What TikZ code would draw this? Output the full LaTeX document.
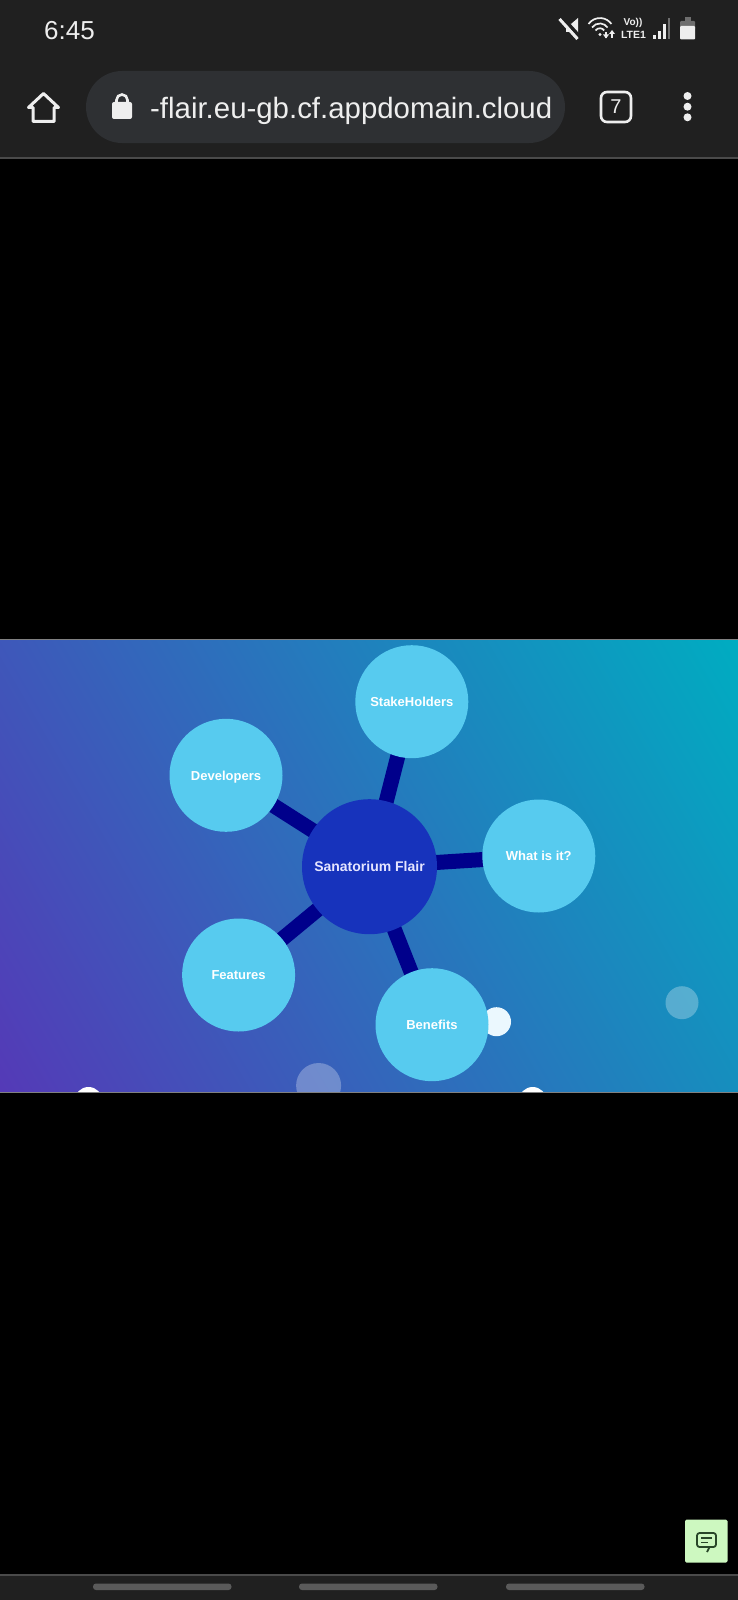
\documentclass[tikz,border=0pt]{standalone}
\usepackage{fontspec}
\setmainfont{Liberation Sans}
\usetikzlibrary{backgrounds,calc}
\definecolor{barbg}{HTML}{202020}
\definecolor{pillbg}{HTML}{2E3033}
\definecolor{sepline}{HTML}{4A4A4A}
\definecolor{lightnode}{HTML}{57CBEF}
\definecolor{hubnode}{HTML}{1733BC}
\definecolor{linkcol}{HTML}{00008B}
\definecolor{gradA}{HTML}{543AB7}
\definecolor{gradB}{HTML}{00ACC1}
\definecolor{btngreen}{HTML}{CDF8C0}
\definecolor{btnink}{HTML}{284628}
\definecolor{inkwhite}{HTML}{EEEEEE}
\tikzset{
  x=1pt,y=-1pt,
  leaf/.style={circle,fill=lightnode,minimum size=113pt,inner sep=0pt,text=white,text height=9.5pt,text depth=0pt,font=\bfseries\fontsize{13}{15}\selectfont},
  hub/.style={circle,fill=hubnode,minimum size=135pt,inner sep=0pt,text=white!90!blue,text height=10pt,text depth=0pt,font=\fontsize{14}{16}\selectfont\bfseries},
  link/.style={draw=linkcol,line width=15pt},
  bubble/.style={circle,inner sep=0pt},
  glyph/.style={inner sep=0pt,text=inkwhite},
  navpill/.style={fill=white!26!barbg,rounded corners=3pt},
}
\begin{document}
\begin{tikzpicture}
\useasboundingbox (0,0) rectangle (738,1600);
\begin{pgfonlayer}{background}
\fill[black] (0,0) rectangle (738,1600);
\begin{scope}
\clip (0,639) rectangle (738,1092);
\shade[bottom color=gradA,top color=gradB,shading angle=-60] (-63.5,433) rectangle (801.5,1298);
\end{scope}
\end{pgfonlayer}
% top bar
\fill[barbg] (0,0) rectangle (738,157);
\fill[sepline] (0,157) rectangle (738,159);
\node[glyph,anchor=center] (clock) at (69.5,31) {\fontsize{26}{28}\selectfont 6:45};
\fill[pillbg,rounded corners=36pt] (86,71) rectangle (565,143);
\node[glyph,anchor=west] (url) at (150,110.5) {\fontsize{29.4}{32}\selectfont -flair.eu-gb.cf.appdomain.cloud};
% home icon
\draw[inkwhite,line width=3pt,line join=round] (28.5,107.5) -- (43.5,93.5) -- (58.5,107.5) -- (54,107.5) -- (54,121.5) -- (33,121.5) -- (33,107.5) -- cycle;
% lock
\fill[inkwhite,rounded corners=2pt] (112,102) rectangle (132,119);
\draw[inkwhite,line width=2.6pt] (116.5,103) -- (116.5,100) arc[start angle=-180,end angle=0,radius=5.5] -- (127.5,103);
% tab counter
\draw[inkwhite,line width=2.6pt,rounded corners=6pt] (601,92) rectangle (631,122);
\node[glyph] (tabs) at (616,107) {\fontsize{20}{22}\selectfont 7};
% menu dots
\foreach \yy in {96,106.7,117.3} \fill[inkwhite] (687.5,\yy) circle[radius=4];
% status icons
\fill[inkwhite] (566,24) -- (571,24) -- (578,18) -- (578,38) -- (571,32) -- (566,32) -- cycle;
\draw[barbg,line width=3.5pt] (561,16) -- (581,38);
\draw[inkwhite,line width=3pt] (559.5,19) -- (577.5,39);
\draw[inkwhite,line width=1.7pt] (588.5,24) arc[start angle=-145,end angle=-35,radius=14];
\draw[inkwhite,line width=1.7pt] (592,27.5) arc[start angle=-145,end angle=-35,radius=9.5];
\draw[inkwhite,line width=1.7pt] (595.5,30.5) arc[start angle=-145,end angle=-35,radius=5.3];
\fill[inkwhite] (600,34.5) circle[radius=1.7];
\draw[inkwhite,line width=1.4pt] (606,38) -- (606,32);
\fill[inkwhite] (603,34.5) -- (606,38.5) -- (609,34.5) -- cycle;
\draw[inkwhite,line width=1.4pt] (612,38) -- (612,32);
\fill[inkwhite] (609,34) -- (612,30) -- (615,34) -- cycle;
\node[glyph] (volte) at (633,23) {\bfseries\fontsize{10}{11}\selectfont Vo))};
\node[glyph] (lte) at (633.5,35) {\bfseries\fontsize{10.5}{11}\selectfont LTE1};
\fill[inkwhite] (653,35) rectangle (655.5,39);
\fill[inkwhite] (658,31) rectangle (660.5,39);
\fill[inkwhite] (663,24) rectangle (665.5,39);
\fill[white!35!barbg] (668,18.5) rectangle (670,39);
\fill[white!35!barbg,rounded corners=1pt] (680,21) rectangle (695,30);
\fill[white!35!barbg] (685,17.5) rectangle (691,22);
\fill[inkwhite,rounded corners=1pt] (680,26) rectangle (695,39.5);
% page
\begin{scope}
\clip (0,639) rectangle (738,1092);
\node[bubble,fill=white,fill opacity=.28,minimum size=33pt] (b1) at (682,1002.7) {};
\node[bubble,fill=white,fill opacity=.28,minimum size=45pt] (b2) at (318.6,1085.5) {};
\node[bubble,fill=white!92!cyan,minimum size=29pt] (b3) at (496.5,1021.7) {};
\node[bubble,fill=white,minimum size=28pt] (b4) at (88.5,1101) {};
\node[bubble,fill=white,minimum size=28pt] (b5) at (532.7,1101) {};
\end{scope}
\node[leaf] (stake) at (411.8,701.7) {StakeHolders};
\node[leaf] (dev) at (226,775.3) {Developers};
\node[leaf] (what) at (538.8,856) {What is it?};
\node[leaf] (feat) at (238.6,975) {Features};
\node[leaf] (ben) at (432,1024.7) {Benefits};
\node[hub] (hub) at (369.5,866.7) {Sanatorium Flair};
\begin{pgfonlayer}{background}
\foreach \tgt in {stake,dev,what,feat,ben} \draw[link] (hub.center) -- (\tgt.center);
\end{pgfonlayer}
\fill[white!50!black] (0,639) rectangle (738,640);
\fill[white!50!black] (0,1092) rectangle (738,1093);
% feedback button
\fill[btngreen,rounded corners=1.5pt] (685,1519.5) rectangle (727.5,1562.5);
\draw[btnink,line width=1.8pt,rounded corners=2.5pt,line join=round] (707,1547) -- (716,1547) -- (716,1533) -- (697,1533) -- (697,1547) -- (709.5,1547);
\draw[btnink,line width=1.8pt] (709.5,1547) -- (707,1552);
\draw[btnink,line width=1.6pt] (701,1538) -- (712,1538);
\draw[btnink,line width=1.6pt] (701,1542.5) -- (708,1542.5);
% navigation bar
\fill[barbg] (0,1574) rectangle (738,1600);
\fill[sepline] (0,1573.5) rectangle (738,1575.5);
\fill[navpill] (93,1583.5) rectangle (231.5,1590);
\fill[navpill] (299,1583.5) rectangle (437.5,1590);
\fill[navpill] (506,1583.5) rectangle (644.5,1590);
\end{tikzpicture}
\end{document}
